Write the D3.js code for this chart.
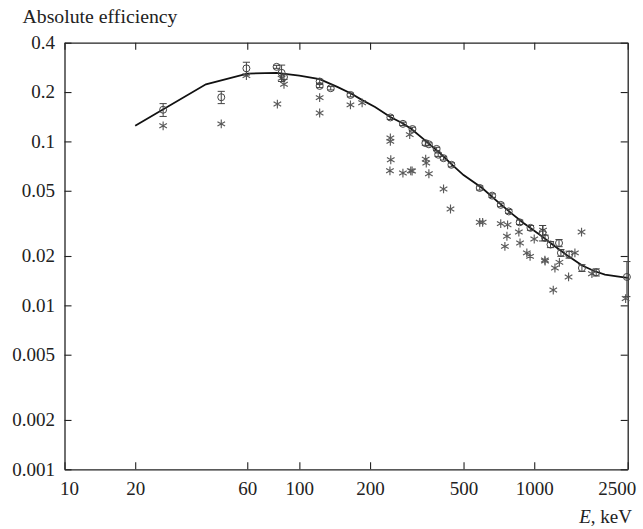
<!DOCTYPE html>
<html>
<head>
<meta charset="utf-8">
<script src="https://cdn.jsdelivr.net/npm/d3@7"></script>
<style>
  body { margin: 0; background: #fff; }
  svg { display: block; }
</style>
</head>
<body>
<svg id="chart" width="643" height="529"></svg>
<script>
// measured points (circles with error bars)
const circleE = [26.3, 46.5, 59.5, 80, 84, 86, 122, 122, 136, 165, 244, 276, 303, 344, 356, 384, 390, 411, 444,
  586, 662, 720, 779, 867, 964, 1085, 1112, 1173, 1275, 1299, 1408, 1596, 1836, 2480];
const circleV = [0.156, 0.186, 0.279, 0.285, 0.262, 0.247, 0.232, 0.218, 0.211, 0.192, 0.140, 0.128, 0.119, 0.0977, 0.096, 0.090, 0.083, 0.079, 0.072,
  0.052, 0.0467, 0.041, 0.0374, 0.0321, 0.0297, 0.0277, 0.0258, 0.0235, 0.024, 0.0209, 0.0204, 0.0169, 0.0159, 0.0149];
const circleErr = [0.014, 0.016, 0.025, 0.006, 0.03, 0.008, 0.007, 0.005, 0.005, 0.005, 0.004, 0.003, 0.003, 0.003, 0.002, 0.002, 0.002, 0.002, 0.002,
  0.0015, 0.0012, 0.001, 0.001, 0.001, 0.001, 0.003, 0.001, 0.001, 0.0012, 0.001, 0.001, 0.0008, 0.0008, 0.0036];

// second data set (asterisks)
const starE = [26.3, 46.5, 59.5, 80.6, 84, 86, 122, 122, 165, 185, 244, 244, 245, 243, 276, 295, 298, 302, 345, 347, 356, 411, 440,
  586, 603, 720, 770, 765, 750, 860, 870, 930, 960, 1000, 1090, 1110, 1112, 1225, 1280, 1400, 1490, 1590, 1205, 1760, 2450];
const starV = [0.1245, 0.128, 0.252, 0.169, 0.243, 0.223, 0.185, 0.149, 0.167, 0.172, 0.105, 0.1, 0.0773, 0.0662, 0.0641, 0.11, 0.0662, 0.066, 0.078, 0.0738, 0.0635, 0.0513, 0.0387,
  0.0321, 0.0321, 0.0315, 0.031, 0.0264, 0.0229, 0.028, 0.024, 0.0209, 0.0199, 0.0254, 0.0287, 0.0189, 0.0186, 0.0169, 0.0183, 0.0149, 0.0209, 0.028, 0.0124, 0.0156, 0.011];

// fitted efficiency curve
const curveE = [20, 40, 60, 80, 100, 122, 145, 166, 186, 210, 244, 275, 300, 350, 400, 450, 500, 600, 700, 800, 900, 1000, 1100, 1200, 1400, 1600, 1800, 2000, 2250, 2500];
const curveV = [0.1245, 0.223, 0.259, 0.262, 0.252, 0.240, 0.215, 0.196, 0.178, 0.162, 0.141, 0.129, 0.119, 0.099, 0.084, 0.0715, 0.0623, 0.052, 0.0428, 0.0364, 0.0318, 0.0285, 0.0258, 0.0234, 0.0199, 0.0175, 0.0162, 0.0154, 0.0150, 0.0147];

const xTicks = [10, 20, 60, 100, 200, 500, 1000, 2500];
const yTicks = [0.4, 0.2, 0.1, 0.05, 0.02, 0.01, 0.005, 0.002, 0.001];

const mLeft = 64.5, mRight = 627.7, mTop = 42.7, mBottom = 469.3;
const serif = "'Liberation Serif'";

const svg = d3.select("#chart");

const x = d3.scaleLog().domain([10, 2500]).range([mLeft, mRight]);
const y = d3.scaleLog().domain([0.001, 0.4]).range([mBottom, mTop]);

const fmtY = d => String(d);

// axes with inward ticks
const gx = svg.append("g").attr("transform", `translate(0,${mBottom})`)
  .call(d3.axisBottom(x).tickValues(xTicks).tickFormat(d3.format("d")).tickSizeInner(-7).tickSizeOuter(0).tickPadding(12));
const gy = svg.append("g").attr("transform", `translate(${mLeft},0)`)
  .call(d3.axisLeft(y).tickValues(yTicks).tickFormat(fmtY).tickSizeInner(-7).tickSizeOuter(0).tickPadding(9.5));
svg.append("g").attr("transform", `translate(0,${mTop})`)
  .call(d3.axisTop(x).tickValues(xTicks).tickFormat("").tickSizeInner(-7).tickSizeOuter(0));
svg.append("g").attr("transform", `translate(${mRight},0)`)
  .call(d3.axisRight(y).tickValues(yTicks).tickFormat("").tickSizeInner(-7).tickSizeOuter(0));

svg.selectAll("g").attr("font-family", serif);
svg.selectAll(".domain").attr("stroke", "#222").attr("stroke-width", 1.3);
svg.selectAll(".tick line").attr("stroke", "#222").attr("stroke-width", 1.1);
svg.selectAll(".tick text").attr("font-size", 19).attr("font-family", serif).attr("fill", "#222");

// end labels pushed to sit inside the frame
gx.selectAll(".tick text")
  .attr("text-anchor", d => d === 10 ? "start" : d === 2500 ? "end" : "middle")
  .attr("dx", d => d === 10 ? -5 : d === 2500 ? 8 : 0);
gy.selectAll(".tick text").attr("dy", "0.3em");

// curve
const line = d3.line().x(d => x(d[0])).y(d => y(d[1]));
svg.append("path")
  .datum(curveE.map((e, i) => [e, curveV[i]]))
  .attr("d", line)
  .attr("fill", "none")
  .attr("stroke", "#111")
  .attr("stroke-width", 1.8);

// asterisks
const rs = 4.4;
const starPath = d3.range(3).map(k => {
  const a = Math.PI / 2 + k * Math.PI / 3;
  const dx = Math.cos(a) * rs, dy = Math.sin(a) * rs;
  return `M${-dx},${-dy}L${dx},${dy}`;
}).join("");
svg.append("g").selectAll("path")
  .data(starE.map((e, i) => [e, starV[i]]))
  .enter().append("path")
  .attr("d", starPath)
  .attr("transform", d => `translate(${x(d[0])},${y(d[1])})`)
  .attr("stroke", "#5a5a5a")
  .attr("stroke-width", 1.15)
  .attr("fill", "none");

// circles with error bars
const pts = circleE.map((e, i) => ({ e, v: circleV[i], err: circleErr[i] }));
const eb = svg.append("g").attr("stroke", "#444").attr("stroke-width", 1).attr("fill", "none");
const cap = 3.6;
eb.selectAll("path")
  .data(pts)
  .enter().append("path")
  .attr("d", d => {
    const cx = x(d.e), y1 = y(d.v + d.err), y0 = y(d.v - d.err);
    return `M${cx},${y0}V${y1}M${cx - cap},${y1}H${cx + cap}M${cx - cap},${y0}H${cx + cap}`;
  });
eb.selectAll("circle")
  .data(pts)
  .enter().append("circle")
  .attr("cx", d => x(d.e))
  .attr("cy", d => y(d.v))
  .attr("r", 3.5);

// titles
svg.append("text").attr("x", 22.5).attr("y", 22.7).attr("font-size", 19.5).attr("font-family", serif)
  .attr("fill", "#222").attr("textLength", 155).attr("lengthAdjust", "spacingAndGlyphs")
  .text("Absolute efficiency");
const xl = svg.append("text").attr("x", 632).attr("y", 522.7).attr("font-size", 19).attr("font-family", serif)
  .attr("fill", "#222").attr("text-anchor", "end");
xl.append("tspan").attr("font-style", "italic").text("E");
xl.append("tspan").text(", keV");
</script>
</body>
</html>
